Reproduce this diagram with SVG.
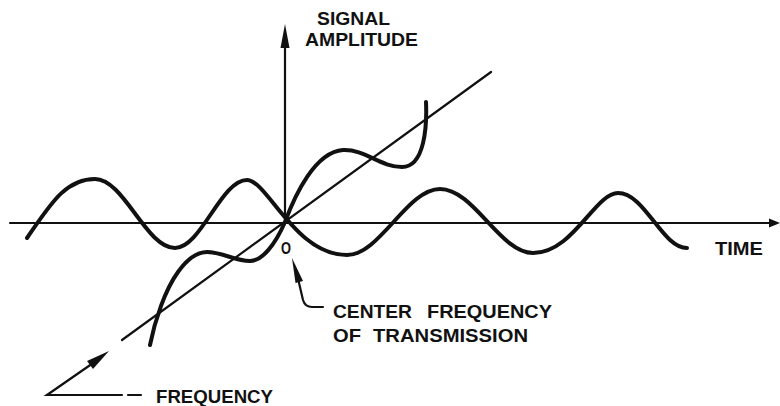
<svg xmlns="http://www.w3.org/2000/svg" width="780" height="406" viewBox="0 0 780 406">
<defs>
<style>
.ax{fill:none;stroke:#111;stroke-width:2.2;stroke-linecap:round}
.wave{fill:none;stroke:#111;stroke-width:4;stroke-linecap:round;stroke-linejoin:round}
.lbl{font-family:"Liberation Sans",Arial,sans-serif;font-weight:bold;font-size:18px;fill:#111}
.head{fill:#111;stroke:none}
</style>
</defs>
<rect width="780" height="406" fill="#fff"/>
<g id="connectors">
<line class="ax" x1="10" y1="223" x2="772" y2="223"/>
<polygon class="head" points="780,223 769,218.5 769,227.5"/>
<line class="ax" x1="285" y1="223" x2="285" y2="44"/>
<polygon class="head" points="285,24 280.5,48 289.5,48"/>
<line class="ax" x1="122" y1="340" x2="491" y2="72" stroke-width="2.6"/>
<path class="ax" d="M296,270 L303,300 Q305,307 312,307 L323,307" stroke-width="2.6"/>
<polygon class="head" points="292,258 295.5,283 303,281"/>
<path class="ax" d="M96,361 L47,395 L122,395" stroke-width="2.6"/>
<line class="ax" x1="128" y1="395" x2="141" y2="395" stroke-width="2.6"/>
<polygon class="head" points="109,351 87,361 93,369"/>
</g>
<g id="time-wave">
<path class="wave" d="M27,238 C50,205 65,179 95,179 C124,179 146,248 175,248 C201,248 221,180 247,180 C267,180 295,255 347,255 C380,255 407,189 440,189 C474,189 500,253 533,253 C573,253 595,193 618,193 C645,193 662,248 687,248"/>
</g>
<g id="frequency-wave">
<path class="wave" d="M150,345 C155,320 165,290 178,272 C188,258 198,252 207,252 C222,252 235,261 250,261 C262,261 275,245 285,222 C295,195 315,152 343,150 C365,149 380,167 402,167 C425,167 427,125 426,102"/>
</g>
<g id="label-signal-amplitude">
<text class="lbl" x="317" y="25" textLength="73" lengthAdjust="spacingAndGlyphs">SIGNAL</text>
<text class="lbl" x="305" y="46" textLength="113" lengthAdjust="spacingAndGlyphs">AMPLITUDE</text>
</g>
<g id="label-time">
<text class="lbl" x="715" y="255" textLength="48" lengthAdjust="spacingAndGlyphs">TIME</text>
</g>
<g id="label-origin">
<text class="lbl" x="281" y="254" style="font-size:16px" textLength="10" lengthAdjust="spacingAndGlyphs">O</text>
</g>
<g id="label-center">
<text class="lbl" x="333" y="318" textLength="79" lengthAdjust="spacingAndGlyphs">CENTER</text>
<text class="lbl" x="427" y="318" textLength="125" lengthAdjust="spacingAndGlyphs">FREQUENCY</text>
<text class="lbl" x="333" y="342" textLength="28" lengthAdjust="spacingAndGlyphs">OF</text>
<text class="lbl" x="373" y="342" textLength="155" lengthAdjust="spacingAndGlyphs">TRANSMISSION</text>
</g>
<g id="label-frequency">
<text class="lbl" x="156" y="403" textLength="117" lengthAdjust="spacingAndGlyphs">FREQUENCY</text>
</g>
</svg>
